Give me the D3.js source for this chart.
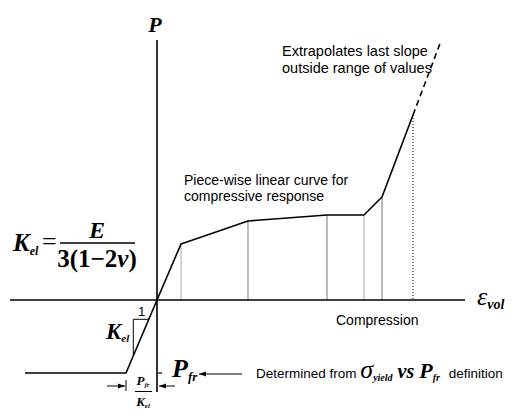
<!DOCTYPE html>
<html>
<head>
<meta charset="utf-8">
<script src="https://cdn.jsdelivr.net/npm/d3@7/dist/d3.min.js"></script>
<style>
  html, body { margin: 0; padding: 0; background: #fff; }
  svg { display: block; }
  .sans { font-family: "Liberation Sans", Arial, sans-serif; }
  .serif { font-family: "Liberation Serif", "Times New Roman", serif; }
</style>
</head>
<body>
<svg id="chart" width="522" height="420"></svg>
<script>
// Volumetric strain / pressure curve (piece-wise linear, with tension cut-off)
const strain   = [-13.2, -3.1, 0, 2.4, 9.1, 17.0, 20.7, 22.5, 25.6];
const pressure = [-7.3, -7.3, 0, 5.6, 7.9, 8.5, 8.5, 10.3, 18.5];
// tabulated points that get a drop line to the strain axis
const tabulated = [3, 4, 5, 6, 7, 8];
const dropShade = ["#aaa", "#777", "#777", "#aaa", "#777", "#000"];
// pressure reached by the extrapolated (dashed) last slope
const extrapTop = 25.8;
// axis extents
const strainAxis = [-14.7, 30.8];
const pressureAxis = [-9.2, 26.0];

const svg = d3.select("#chart");
const x = d3.scaleLinear().domain([-15, 31]).range([7, 467]);
const y = d3.scaleLinear().domain([-10, 27]).range([400, 30]);

const pts = strain.map((e, i) => [e, pressure[i]]);
const line = d3.line().x(d => x(d[0])).y(d => y(d[1]));

// drop lines from tabulated points
tabulated.forEach((i, k) => {
  const last = k === tabulated.length - 1;
  svg.append("line")
    .attr("x1", x(strain[i])).attr("x2", x(strain[i]))
    .attr("y1", y(pressure[i])).attr("y2", y(0))
    .attr("stroke", dropShade[k])
    .attr("stroke-width", 1)
    .attr("stroke-dasharray", last ? "1,2" : null);
});

// axes
svg.append("line")
  .attr("x1", x(strainAxis[0])).attr("x2", x(strainAxis[1]))
  .attr("y1", y(0)).attr("y2", y(0))
  .attr("stroke", "#000").attr("stroke-width", 1.6);
svg.append("line")
  .attr("x1", x(0)).attr("x2", x(0))
  .attr("y1", y(pressureAxis[1])).attr("y2", y(pressureAxis[0]))
  .attr("stroke", "#000").attr("stroke-width", 1.6);

// main curve
svg.append("path")
  .attr("d", line(pts))
  .attr("fill", "none").attr("stroke", "#000").attr("stroke-width", 1.6)
  .attr("stroke-linejoin", "round");

// extrapolation of the last slope
const n = pts.length;
const lastSlope = (pressure[n - 1] - pressure[n - 2]) / (strain[n - 1] - strain[n - 2]);
const extrapEnd = [strain[n - 1] + (extrapTop - pressure[n - 1]) / lastSlope, extrapTop];
svg.append("path")
  .attr("d", line([pts[n - 1], extrapEnd]))
  .attr("fill", "none").attr("stroke", "#000").attr("stroke-width", 1.6)
  .attr("stroke-dasharray", "6,4");

// small stub of the cut-off level right of the axis
svg.append("line")
  .attr("x1", x(0) + 1).attr("x2", x(0.5))
  .attr("y1", y(pressure[1])).attr("y2", y(pressure[1]))
  .attr("stroke", "#000").attr("stroke-width", 1.2);

// slope triangle on the elastic branch
const kEl = pressure[3] / strain[3];
const triA = -2.37, triB = -1.93 / kEl;
svg.append("path")
  .attr("d", `M${x(triA)},${y(triA * kEl)} L${x(triA)},${y(triB * kEl)} L${x(triB)},${y(triB * kEl)}`)
  .attr("fill", "none").attr("stroke", "#000").attr("stroke-width", 1);
svg.append("text").attr("class", "sans")
  .attr("x", x((triA + triB) / 2) + 0.5).attr("y", y(triB * kEl) - 3)
  .attr("text-anchor", "middle").attr("font-size", 13).text("1");

// arrowheads
const defs = svg.append("defs");
defs.append("marker").attr("id", "ah")
  .attr("viewBox", "0 0 10 10").attr("refX", 10).attr("refY", 5)
  .attr("markerWidth", 7).attr("markerHeight", 7).attr("markerUnits", "userSpaceOnUse")
  .attr("orient", "auto")
  .append("path").attr("d", "M0,1.5 L10,5 L0,8.5 Z").attr("fill", "#000");

// dimension of the cut-off strain
const dimY = 386;
svg.append("line")
  .attr("x1", x(strain[1])).attr("x2", x(strain[1]))
  .attr("y1", 380).attr("y2", 391)
  .attr("stroke", "#000").attr("stroke-width", 1);
svg.append("line")
  .attr("x1", x(strain[1]) - 19).attr("x2", x(strain[1]) - 1)
  .attr("y1", dimY).attr("y2", dimY)
  .attr("stroke", "#000").attr("stroke-width", 1).attr("marker-end", "url(#ah)");
svg.append("line")
  .attr("x1", x(0) + 18).attr("x2", x(0) + 2)
  .attr("y1", dimY).attr("y2", dimY)
  .attr("stroke", "#000").attr("stroke-width", 1).attr("marker-end", "url(#ah)");

// arrow from the note to P_fr
svg.append("line")
  .attr("x1", 242).attr("x2", 199)
  .attr("y1", 374).attr("y2", 374)
  .attr("stroke", "#000").attr("stroke-width", 1).attr("marker-end", "url(#ah)");

// --- text ---
const serifBI = (sel) => sel.attr("class", "serif").attr("font-weight", "bold").attr("font-style", "italic");

// P axis title
serifBI(svg.append("text")).attr("x", 155).attr("y", 32).attr("text-anchor", "middle")
  .attr("font-size", 22).text("P");

// strain axis title
const ev = serifBI(svg.append("text")).attr("x", 477).attr("y", 305).attr("font-size", 26);
ev.append("tspan").attr("font-weight", "normal").text("ε");
ev.append("tspan").attr("font-size", 14).attr("dy", 4).text("vol");

// notes
svg.append("text").attr("class", "sans").attr("font-size", 14.5)
  .attr("x", 282).attr("y", 56)
  .selectAll("tspan").data(["Extrapolates last slope", "outside range of values"])
  .join("tspan").attr("x", 282).attr("dy", (d, i) => i ? 17 : 0).text(d => d);
svg.append("text").attr("class", "sans").attr("font-size", 14)
  .attr("x", 184).attr("y", 185)
  .selectAll("tspan").data(["Piece-wise linear curve for", "compressive response"])
  .join("tspan").attr("x", 184).attr("dy", (d, i) => i ? 16 : 0).text(d => d);
svg.append("text").attr("class", "sans").attr("font-size", 14)
  .attr("x", 336).attr("y", 325).text("Compression");

// K_el formula
const kf = serifBI(svg.append("text")).attr("x", 13).attr("y", 251).attr("font-size", 25);
kf.append("tspan").text("K");
kf.append("tspan").attr("font-size", 12).attr("dy", 4).text("el");
svg.append("text").attr("class", "serif").attr("x", 42).attr("y", 250).attr("font-size", 26).text("=");
serifBI(svg.append("text")).attr("x", 97).attr("y", 238).attr("text-anchor", "middle")
  .attr("font-size", 24).text("E");
svg.append("line").attr("x1", 60).attr("x2", 135).attr("y1", 243).attr("y2", 243)
  .attr("stroke", "#000").attr("stroke-width", 1.3);
const den = svg.append("text").attr("class", "serif").attr("font-weight", "bold")
  .attr("x", 97).attr("y", 267).attr("text-anchor", "middle").attr("font-size", 25);
den.append("tspan").text("3(1−2");
den.append("tspan").attr("font-style", "italic").text("ν");
den.append("tspan").text(")");

// K_el beside slope triangle
const kt = serifBI(svg.append("text")).attr("x", 106).attr("y", 339).attr("font-size", 23);
kt.append("tspan").text("K");
kt.append("tspan").attr("font-size", 11).attr("dy", 3).text("el");

// P_fr label
const pf = serifBI(svg.append("text")).attr("x", 172).attr("y", 377).attr("font-size", 26);
pf.append("tspan").text("P");
pf.append("tspan").attr("font-size", 13).attr("dy", 4).text("fr");

// P_fr / K_el
const fn = serifBI(svg.append("text")).attr("x", 143).attr("y", 385).attr("text-anchor", "middle").attr("font-size", 13);
fn.append("tspan").text("P");
fn.append("tspan").attr("font-size", 7).attr("dy", 2).text("fr");
svg.append("line").attr("x1", 135).attr("x2", 152).attr("y1", 391.5).attr("y2", 391.5)
  .attr("stroke", "#000").attr("stroke-width", 1);
const fd = serifBI(svg.append("text")).attr("x", 143).attr("y", 406).attr("text-anchor", "middle").attr("font-size", 13);
fd.append("tspan").text("K");
fd.append("tspan").attr("font-size", 7).attr("dy", 2).text("el");

// note on the cut-off definition
const dn = svg.append("text").attr("x", 256).attr("y", 378).attr("font-size", 13.5);
dn.append("tspan").attr("class", "sans").text("Determined from ");
dn.append("tspan").attr("class", "serif").attr("font-style", "italic").attr("font-size", 26).text("σ");
dn.append("tspan").attr("class", "serif").attr("font-style", "italic").attr("font-weight", "bold")
  .attr("font-size", 10).attr("dy", 3).text("yield");
dn.append("tspan").attr("class", "serif").attr("font-style", "italic").attr("font-weight", "bold")
  .attr("font-size", 20).attr("dy", -3).text(" vs ");
dn.append("tspan").attr("class", "serif").attr("font-style", "italic").attr("font-weight", "bold")
  .attr("font-size", 22).text("P");
dn.append("tspan").attr("class", "serif").attr("font-style", "italic").attr("font-weight", "bold")
  .attr("font-size", 10).attr("dy", 3).text("fr");
dn.append("tspan").attr("class", "sans").attr("font-size", 13.5).attr("dy", -3).attr("dx", 5).text(" definition");
</script>
</body>
</html>
